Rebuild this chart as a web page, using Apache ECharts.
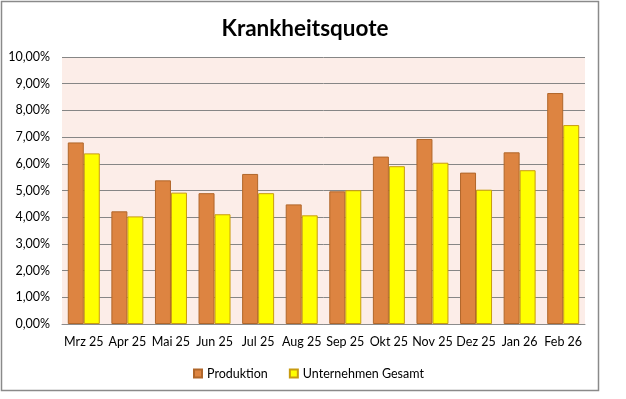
<!DOCTYPE html>
<html>
<head>
<meta charset="utf-8">
<script src="https://cdn.jsdelivr.net/npm/echarts@6/dist/echarts.min.js"></script>
<style>
html,body{margin:0;padding:0;background:#fff;}
#c{width:626px;height:399px;}
</style>
</head>
<body>
<div id="c"></div>
<script>
const categories = ["Mrz 25","Apr 25","Mai 25","Jun 25","Jul 25","Aug 25","Sep 25","Okt 25","Nov 25","Dez 25","Jan 26","Feb 26"];
const produktion = [6.80,4.22,5.38,4.90,5.62,4.48,4.97,6.27,6.93,5.67,6.43,8.65];
const gesamt = [6.39,4.03,4.92,4.11,4.90,4.07,5.01,5.91,6.04,5.03,5.76,7.45];
const seriesNames = ["Produktion","Unternehmen Gesamt"];
const titleText = "Krankheitsquote";

const FONT = "Lato";
const chart = echarts.init(document.getElementById('c'), null, {renderer:'canvas'});
chart.setOption({
  animation:false,
  backgroundColor:'#ffffff',
  textStyle:{fontFamily:FONT},
  title:{
    text:titleText, left:300, textAlign:'center', top:12,
    textStyle:{fontFamily:FONT, fontSize:22.5, fontWeight:'bold', color:'#000'}
  },
  graphic:[
    {type:'rect', shape:{x:1.5,y:1.5,width:597,height:389}, style:{fill:null, stroke:'#8a8a8a', lineWidth:1.5}, silent:true, z:-1}
  ],
  legend:{
    data:seriesNames, left:188, top:362, itemWidth:8, itemHeight:8, itemGap:21,
    icon:'rect',
    textStyle:{fontFamily:FONT, fontSize:12.5, color:'#000'}
  },
  grid:{left:62, right:41, top:57, bottom:75, show:true, backgroundColor:'#FCEDE8', borderWidth:0},
  xAxis:{
    type:'category', data:categories,
    axisLine:{show:true, lineStyle:{color:'#8c8c8c', width:1}},
    axisTick:{show:false},
    axisLabel:{fontFamily:FONT, fontSize:12.5, color:'#000', margin:11, interval:0}
  },
  yAxis:{
    type:'value', min:0, max:10, interval:1,
    axisLine:{show:false}, axisTick:{show:false},
    splitLine:{lineStyle:{color:'#868686', width:1}},
    axisLabel:{fontFamily:FONT, fontSize:12.5, color:'#000', margin:12,
      formatter:v=>v.toFixed(2).replace('.',',')+'%'}
  },
  series:[
    {name:seriesNames[0], type:'bar', data:produktion, barGap:'0%', barCategoryGap:'26.6%',
     itemStyle:{color:'#DD8441', borderColor:'#B0662A', borderWidth:1}},
    {name:seriesNames[1], type:'bar', data:gesamt,
     itemStyle:{color:'#FFFF00', borderColor:'#C89B10', borderWidth:1}}
  ]
});
</script>
</body>
</html>
